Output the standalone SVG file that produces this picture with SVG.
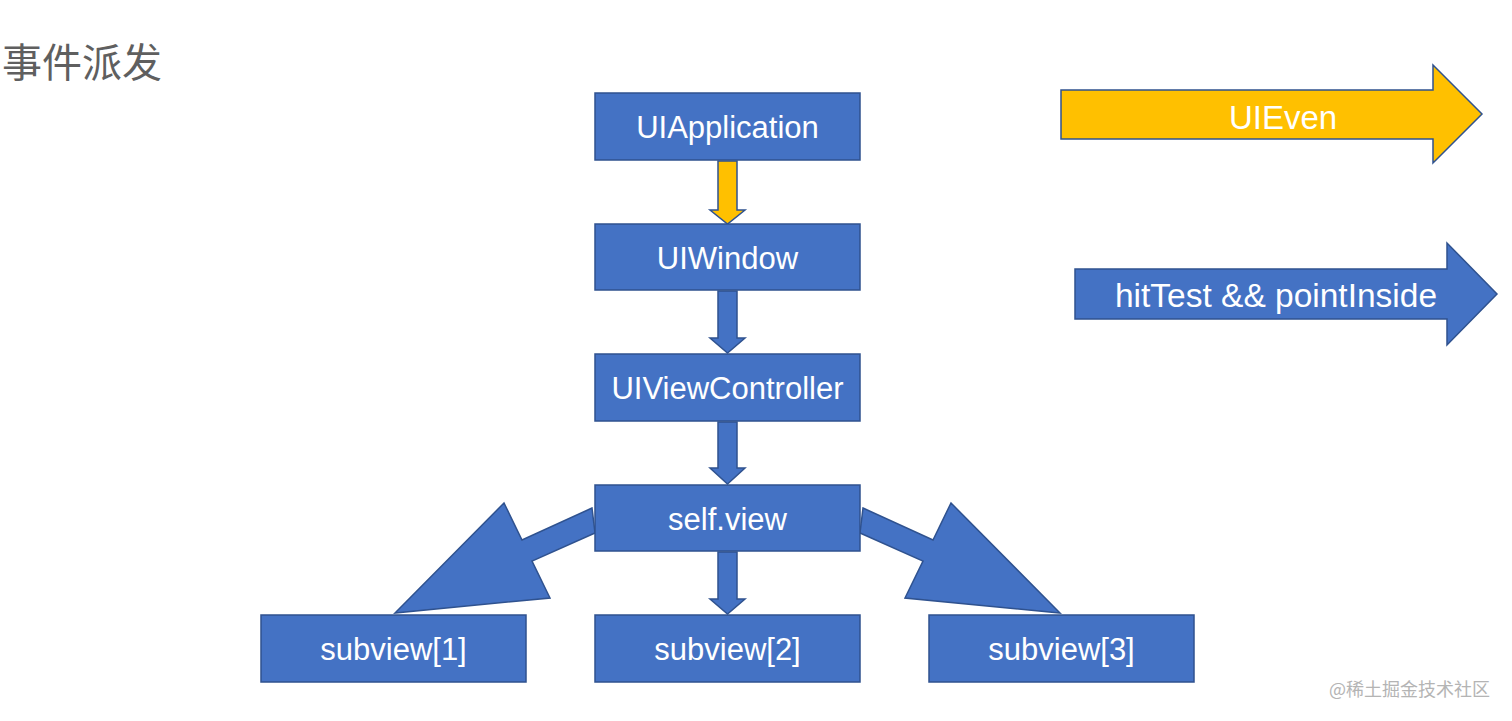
<svg xmlns="http://www.w3.org/2000/svg" width="1512" height="721" viewBox="0 0 1512 721">
<style>
.box{fill:#4472C4;stroke:#2F528F;stroke-width:1.5}
.lbl{font-family:"Liberation Sans",Arial,sans-serif;font-size:31px;fill:#ffffff;text-anchor:middle;dominant-baseline:central}
.blue{fill:#4472C4;stroke:#2F528F;stroke-width:1.5;stroke-linejoin:miter}
.yel{fill:#FFC000;stroke:#2F528F;stroke-width:1.5;stroke-linejoin:miter}
.big{font-family:"Liberation Sans",Arial,sans-serif;font-size:33px;fill:#ffffff;text-anchor:middle;dominant-baseline:central}
</style>
<rect width="1512" height="721" fill="#ffffff"/>
<text x="2" y="77" font-family="'Noto Sans CJK SC','Noto Sans',sans-serif" font-size="40" fill="#5f5f5f">事件派发</text>
<g id="connectors">
  <polygon class="yel" points="718,161 737,161 737,210 745,210 727.5,224 710,210 718,210"/>
  <polygon class="blue" points="718,291 737,291 737,338 745,338 727.5,353 710,338 718,338"/>
  <polygon class="blue" points="718,422 737,422 737,468 745,468 727.5,484 710,468 718,468"/>
  <polygon class="blue" points="718,552 737,552 737,599 745,599 727.5,614 710,599 718,599"/>
  <polygon class="blue" points="592,508 522,540 504,503 395,613 550,598 532,561 595,533"/>
  <polygon class="blue" points="863,508 933,540 951,503 1060,613 905,598 923,561 860,533"/>
</g>
<g id="node-uiapplication"><rect class="box" x="595" y="93" width="265" height="67"/><text class="lbl" x="727.5" y="127">UIApplication</text></g>
<g id="node-uiwindow"><rect class="box" x="595" y="224" width="265" height="66"/><text class="lbl" x="727.5" y="258">UIWindow</text></g>
<g id="node-uiviewcontroller"><rect class="box" x="595" y="354" width="265" height="67"/><text class="lbl" x="727.5" y="388">UIViewController</text></g>
<g id="node-selfview"><rect class="box" x="595" y="485" width="265" height="66"/><text class="lbl" x="727.5" y="519">self.view</text></g>
<g id="node-subview1"><rect class="box" x="261" y="615" width="265" height="67"/><text class="lbl" x="393.5" y="649">subview[1]</text></g>
<g id="node-subview2"><rect class="box" x="595" y="615" width="265" height="67"/><text class="lbl" x="727.5" y="649">subview[2]</text></g>
<g id="node-subview3"><rect class="box" x="929" y="615" width="265" height="67"/><text class="lbl" x="1061.5" y="649">subview[3]</text></g>
<g id="legend-uieven"><polygon class="yel" points="1061,90 1433,90 1433,65 1482,114 1433,163 1433,139 1061,139"/><text class="big" x="1283" y="117">UIEven</text></g>
<g id="legend-hittest"><polygon class="blue" points="1075,269 1447,269 1447,243 1497,294 1447,345 1447,319 1075,319"/><text class="big" x="1276" y="295" style="font-size:33.5px">hitTest &amp;&amp; pointInside</text></g>
<text x="1490" y="696" text-anchor="end" font-family="'Noto Sans CJK SC','Noto Sans',sans-serif" font-size="18" fill="#b4b4b4">@稀土掘金技术社区</text>
</svg>
